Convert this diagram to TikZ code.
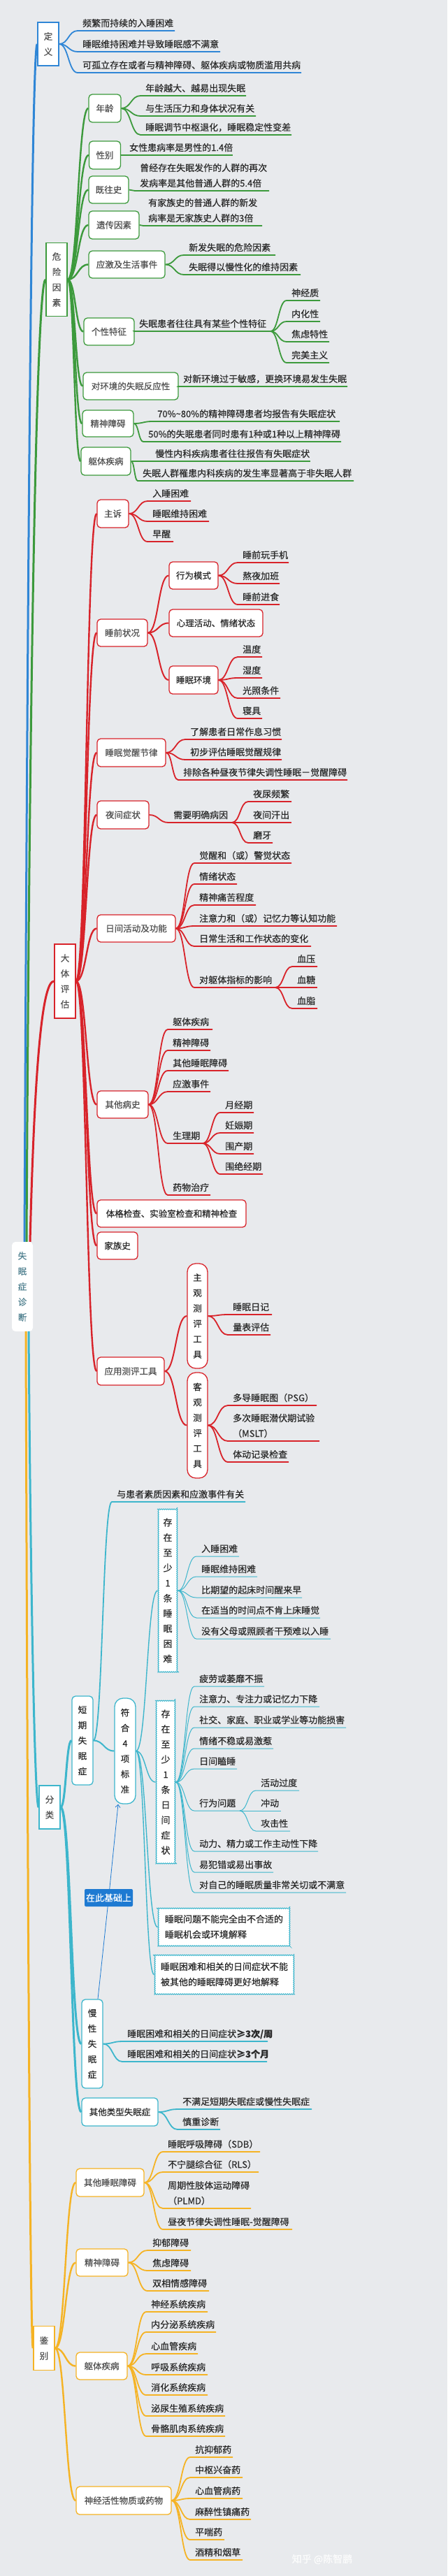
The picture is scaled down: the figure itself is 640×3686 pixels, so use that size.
\documentclass[tikz,border=0pt]{standalone}
\usepackage{fontspec}
\setmainfont{Noto Sans CJK SC}[FakeBold=0.5]
\usetikzlibrary{calc,decorations.pathmorphing,arrows.meta}
\definecolor{bgc}{HTML}{E8EAED}
\definecolor{blu}{HTML}{2F86D6}
\definecolor{grn}{HTML}{3C9A3C}
\definecolor{rdd}{HTML}{D8232A}
\definecolor{tea}{HTML}{3DB6CC}
\definecolor{yel}{HTML}{F5B324}
\definecolor{calb}{HTML}{1E7AD2}
\definecolor{boxtxt}{HTML}{505050}
\definecolor{leaftxt}{HTML}{2A2A2A}
\definecolor{roottxt}{HTML}{4E7F8E}
\colorlet{br}{blu}
\newcommand{\hfnt}{\fontsize{13}{22}\selectfont}
\newcommand{\bfnt}{\fontsize{12.5}{22}\selectfont}
\newcommand{\vfnt}{\fontsize{12.5}{22}\selectfont}
\newcommand{\cfnt}{\fontsize{13}{21.7}\selectfont}
\newcommand{\cv}[2]{let \p1=(#1), \p2=(#2) in (\p1) .. controls ({0.5*\x1+0.5*\x2},\y1) and ({0.5*\x1+0.5*\x2},\y2) .. (\p2)}
\newcommand{\lf}[6]{%
 \coordinate (#2-a) at ({#3-7},#4);
 \coordinate (#2-b) at (#5,#4);
 \node[leaftext,anchor=base west] (#2) at (#3,{#4-6}) {#6};
 \draw[leafline] \cv{#1}{#2-a} -- (#2-b);
}
\newcommand{\lftwo}[7]{%
 \coordinate (#2-a) at ({#3-7},#4);
 \coordinate (#2-b) at (#5,#4);
 \node[leaftext,anchor=base west] (#2) at (#3,{#4-6}) {\begin{tabular}[b]{@{}l@{}}#6\\#7\end{tabular}};
 \draw[leafline] \cv{#1}{#2-a} -- (#2-b);
}
\tikzset{
 box1/.style={fill=white, line width=1.5pt, minimum width=30pt, align=center, text=boxtxt, inner sep=1pt, font=\vfnt},
 box2/.style={draw=br, fill=white, line width=1.3pt, rounded corners=5pt, text=boxtxt, inner sep=1pt, font=\bfnt},
 pill/.style={draw=br, fill=white, line width=1.3pt, rounded corners=12pt, align=center, text=leaftxt, inner sep=1pt, font=\vfnt},
 cloudbox/.style={draw=br, fill=white, line width=1pt, decorate, decoration={bumps, segment length=6pt, amplitude=1.2pt}, text=leaftxt, inner sep=1pt},
 leaftext/.style={text=leaftxt, inner sep=0pt, font=\hfnt},
 leafline/.style={draw=br, line width=1.8pt},
 twig/.style={draw=br, line width=2.4pt},
 trunk/.style={line width=3pt},
}
\begin{document}
\begin{tikzpicture}[x=1pt,y=-1pt]
\fill[bgc] (0,0) rectangle (640,3686);
\useasboundingbox (0,0) rectangle (640,3686);

% root and level 1
\node[fill=white, rounded corners=5pt, minimum width=30, minimum height=128, align=center, text=roottxt, inner sep=1pt, font=\vfnt] (root) at (32,1841) {失\\眠\\症\\诊\\断};
\node[box1, draw=blu, minimum height=62] (d) at (69,63) {定\\义};
\node[box1, draw=grn, minimum height=105] (dz) at (81,400) {危\\险\\因\\素};
\node[box1, draw=rdd, minimum height=106] (dt) at (93,1404) {大\\体\\评\\估};
\node[box1, draw=tea, minimum height=62] (fl) at (71,2586) {分\\类};
\node[box1, draw=yel, minimum height=63] (jb) at (63,3360) {鉴\\别};

\draw[trunk, blu] ($(root.north)+(3,0)$) .. controls (40,700) and (46,63) .. (d.west);
\draw[trunk, grn] ($(root.north)+(6,0)$) .. controls (42,1000) and (52,400) .. (dz.west);
\draw[trunk, rdd] ($(root.north)+(11,0)$) .. controls (50,1500) and (62,1404) .. (dt.west);
\draw[trunk, tea] ($(root.south)+(9,0)$) .. controls (44,2300) and (50,2586) .. (fl.west);
\draw[trunk, yel] ($(root.south)+(5,0)$) .. controls (40,2900) and (44,3360) .. (jb.west);

% definition
\begin{scope}
\colorlet{br}{blu}
\lf{d.east}{d1}{118}{44}{250}{频繁而持续的入睡困难}
\lf{d.east}{d2}{118}{74}{315}{睡眠维持困难并导致睡眠感不满意}
\lf{d.east}{d3}{118}{104}{431}{可孤立存在或者与精神障碍、躯体疾病或物质滥用共病}
\end{scope}

% risk factors
\begin{scope}
\colorlet{br}{grn}
\node[box2, minimum width=46, minimum height=40] (g1) at (150,155) {年龄};
\node[box2, minimum width=45, minimum height=40] (g2) at (150,222) {性别};
\node[box2, minimum width=57, minimum height=39] (g3) at (155.5,271.5) {既往史};
\node[box2, minimum width=72, minimum height=40] (g4) at (163,322) {遗传因素};
\node[box2, minimum width=109, minimum height=39] (g5) at (181.5,378.5) {应激及生活事件};
\node[box2, minimum width=72, minimum height=39] (g6) at (156,474.5) {个性特征};
\node[box2, minimum width=136, minimum height=39] (g7) at (187,552.5) {对环境的失眠反应性};
\node[box2, minimum width=73, minimum height=38] (g8) at (154.5,606) {精神障碍};
\node[box2, minimum width=71, minimum height=40] (g9) at (151.5,660) {躯体疾病};
\foreach \q in {g1,g2,g3,g4,g5,g6,g7,g8,g9}{\draw[twig] \cv{dz.east}{\q.west};}
\lf{g1.east}{g1a}{208}{137}{352}{年龄越大、越易出现失眠}
\lf{g1.east}{g1b}{208}{166}{366}{与生活压力和身体状况有关}
\lf{g1.east}{g1c}{208}{193}{417}{睡眠调节中枢退化，睡眠稳定性变差}
\lf{g2.east}{g2a}{185}{222}{333}{女性患病率是男性的1.4倍}
\lftwo{g3.east}{g3a}{200}{273}{385}{曾经存在失眠发作的人群的再次}{发病率是其他普通人群的5.4倍}
\lftwo{g4.east}{g4a}{212}{323}{375}{有家族史的普通人群的新发}{病率是无家族史人群的3倍}
\lf{g5.east}{g5a}{270}{365}{394}{新发失眠的危险因素}
\lf{g5.east}{g5b}{270}{393}{430}{失眠得以慢性化的维持因素}
\lf{g6.east}{g6a}{199}{474}{387}{失眠患者往往具有某些个性特征}
\lf{g6a-b}{g6b}{417}{430}{458}{神经质}
\lf{g6a-b}{g6c}{417}{460}{458}{内化性}
\lf{g6a-b}{g6d}{417}{489}{471}{焦虑特性}
\lf{g6a-b}{g6e}{417}{519}{471}{完美主义}
\lf{g7.east}{g7a}{262}{553}{497}{对新环境过于敏感，更换环境易发生失眠}
\lf{g8.east}{g8a}{225}{603}{486}{70\%\textasciitilde80\%的精神障碍患者均报告有失眠症状}
\lf{g8.east}{g8b}{212}{632}{488}{50\%的失眠患者同时患有1种或1种以上精神障碍}
\lf{g9.east}{g9a}{222}{660}{444}{慢性内科疾病患者往往报告有失眠症状}
\lf{g9.east}{g9b}{204}{688}{506}{失眠人群罹患内科疾病的发生率显著高于非失眠人群}
\end{scope}

% general assessment
\begin{scope}
\colorlet{br}{rdd}
\node[box2, minimum width=45, minimum height=40] (r1) at (161.5,735) {主诉};
\node[box2, minimum width=72, minimum height=39] (r2) at (175,905.5) {睡前状况};
\node[box2, minimum width=70, minimum height=39, text=leaftxt] (r2a) at (277,823.5) {行为模式};
\node[box2, minimum width=134, minimum height=39, text=leaftxt] (r2b) at (309,891.5) {心理活动、情绪状态};
\node[box2, minimum width=70, minimum height=40, text=leaftxt] (r2c) at (277,973) {睡眠环境};
\node[box2, minimum width=98, minimum height=40] (r3) at (188,1077) {睡眠觉醒节律};
\node[box2, minimum width=74, minimum height=40] (r4) at (176,1166) {夜间症状};
\node[box2, minimum width=112, minimum height=39] (r5) at (195,1328.5) {日间活动及功能};
\node[box2, minimum width=73, minimum height=39] (r6) at (175.5,1580.5) {其他病史};
\node[box2, minimum width=213, minimum height=39, text=leaftxt] (r7) at (245.5,1736.5) {体格检查、实验室检查和精神检查};
\node[box2, minimum width=58, minimum height=39, text=leaftxt] (r8) at (168,1782.5) {家族史};
\node[box2, minimum width=96, minimum height=40] (r9) at (187,1962) {应用测评工具};
\node[pill, minimum width=29, minimum height=150] (r9a) at (282.5,1883) {主\\观\\测\\评\\工\\具};
\node[pill, minimum width=29, minimum height=151] (r9b) at (282.5,2039.5) {客\\观\\测\\评\\工\\具};
\foreach \q in {r1,r2,r3,r4,r5,r6,r7,r8,r9}{\draw[twig] \cv{dt.east}{\q.west};}
\foreach \q in {r2a,r2b,r2c}{\draw[twig, line width=2pt] \cv{r2.east}{\q.west};}
\foreach \q in {r9a,r9b}{\draw[twig, line width=2pt] \cv{r9.east}{\q.west};}
\lf{r1.east}{r1a}{218}{717}{273}{入睡困难}
\lf{r1.east}{r1b}{218}{746}{299}{睡眠维持困难}
\lf{r1.east}{r1c}{218}{775}{248}{早醒}
\lf{r2a.east}{r2a1}{347}{805}{413}{睡前玩手机}
\lf{r2a.east}{r2a2}{347}{835}{400}{熬夜加班}
\lf{r2a.east}{r2a3}{347}{865}{400}{睡前进食}
\lf{r2c.east}{r2c1}{347}{940}{375}{温度}
\lf{r2c.east}{r2c2}{347}{970}{375}{湿度}
\lf{r2c.east}{r2c3}{347}{999}{401}{光照条件}
\lf{r2c.east}{r2c4}{347}{1028}{375}{寝具}
\lf{r3.east}{r3a}{272}{1058}{403}{了解患者日常作息习惯}
\lf{r3.east}{r3b}{272}{1087}{403}{初步评估睡眠觉醒规律}
\lf{r3.east}{r3c}{262}{1116}{497}{排除各种昼夜节律失调性睡眠－觉醒障碍}
\lf{r4.east}{r4a}{248}{1177}{332}{需要明确病因}
\lf{r4a-b}{r4b}{362}{1147}{417}{夜尿频繁}
\lf{r4a-b}{r4c}{362}{1177}{417}{夜间汗出}
\lf{r4a-b}{r4d}{362}{1206}{390}{磨牙}
\lf{r5.east}{r5a}{285}{1235}{417}{觉醒和（或）警觉状态}
\lf{r5.east}{r5b}{285}{1265}{339}{情绪状态}
\lf{r5.east}{r5c}{285}{1295}{366}{精神痛苦程度}
\lf{r5.east}{r5d}{285}{1325}{482}{注意力和（或）记忆力等认知功能}
\lf{r5.east}{r5e}{285}{1354}{445}{日常生活和工作状态的变化}
\lf{r5.east}{r5f}{285}{1413}{394}{对躯体指标的影响}
\lf{r5f-b}{r5g}{425}{1383}{454}{血压}
\lf{r5f-b}{r5h}{425}{1413}{454}{血糖}
\lf{r5f-b}{r5i}{425}{1443}{454}{血脂}
\lf{r6.east}{r6a}{247}{1473}{304}{躯体疾病}
\lf{r6.east}{r6b}{247}{1503}{301}{精神障碍}
\lf{r6.east}{r6c}{247}{1532}{327}{其他睡眠障碍}
\lf{r6.east}{r6d}{247}{1562}{301}{应激事件}
\lf{r6.east}{r6e}{247}{1636}{290}{生理期}
\lf{r6.east}{r6f}{247}{1710}{301}{药物治疗}
\lf{r6e-b}{r6g}{322}{1592}{363}{月经期}
\lf{r6e-b}{r6h}{322}{1621}{363}{妊娠期}
\lf{r6e-b}{r6i}{322}{1651}{363}{围产期}
\lf{r6e-b}{r6j}{322}{1680}{376}{围绝经期}
\lf{r9a.east}{r9a1}{333}{1881}{389}{睡眠日记}
\lf{r9a.east}{r9a2}{333}{1910}{387}{量表评估}
\lf{r9b.east}{r9b1}{333}{2011}{453}{多导睡眠图（PSG）}
\lftwo{r9b.east}{r9b2}{333}{2062}{457}{多次睡眠潜伏期试验}{（MSLT）}
\lf{r9b.east}{r9b3}{333}{2092}{413}{体动记录检查}
\end{scope}

% classification
\begin{scope}
\colorlet{br}{tea}
\node[box2, minimum width=30, minimum height=127, align=center, text=leaftxt, font=\vfnt] (t1) at (118,2490.5) {短\\期\\失\\眠\\症};
\node[pill, minimum width=30, minimum height=151] (t1b) at (179,2505.5) {符\\合\\4\\项\\标\\准};
\node[cloudbox, minimum width=28, minimum height=234, align=center, font=\cfnt] (c1) at (240,2276) {存\\在\\至\\少\\1\\条\\睡\\眠\\困\\难};
\node[cloudbox, minimum width=28, minimum height=234, align=center, font=\cfnt] (c2) at (237,2550) {存\\在\\至\\少\\1\\条\\日\\间\\症\\状};
\node[cloudbox, minimum width=189, minimum height=55, font=\hfnt] (c3) at (320.5,2757.5) {\begin{tabular}{@{}l@{}}睡眠问题不能完全由不合适的\\睡眠机会或环境解释\end{tabular}};
\node[cloudbox, minimum width=200, minimum height=57, font=\hfnt] (c4) at (321,2825.5) {\begin{tabular}{@{}l@{}}睡眠困难和相关的日间症状不能\\被其他的睡眠障碍更好地解释\end{tabular}};
\node[box2, minimum width=30, minimum height=127, align=center, text=leaftxt, font=\vfnt] (t2) at (132,2924.5) {慢\\性\\失\\眠\\症};
\node[box2, minimum width=109, minimum height=40, text=leaftxt] (t3) at (171.5,3022) {其他类型失眠症};
\node[fill=calb, text=white, minimum width=69, minimum height=25, inner sep=1pt, rounded corners=2pt, font=\hfnt] (cb) at (155.5,2715.5) {在此基础上};
\foreach \q in {t1,t2,t3}{\draw[twig, line width=3pt] \cv{fl.east}{\q.west};}
\draw[twig, line width=2pt] \cv{t1.east}{t1b.west};
\foreach \q in {c1,c2,c3,c4}{\draw[twig, line width=1.4pt] \cv{t1b.east}{\q.west};}
\draw[calb, line width=0.8pt] ($(t2.north)+(8,0)$) -- (cb);
\draw[calb, line width=0.8pt, -{Straight Barb[length=4pt,width=7pt]}] (cb) -- ($(t1b.south)+(-10,0)$);
\lf{t1.east}{t1a}{167}{2149}{351}{与患者素质因素和应激事件有关}
\begin{scope}[leafline/.style={draw=br, line width=1pt}]
\lf{c1.east}{c1a}{288}{2227}{342}{入睡困难}
\lf{c1.east}{c1b}{288}{2256}{368}{睡眠维持困难}
\lf{c1.east}{c1c}{288}{2286}{432}{比期望的起床时间醒来早}
\lf{c1.east}{c1d}{288}{2315}{458}{在适当的时间点不肯上床睡觉}
\lf{c1.east}{c1e}{288}{2345}{473}{没有父母或照顾者干预难以入睡}
\lf{c2.east}{c2a}{285}{2413}{378}{疲劳或萎靡不振}
\lf{c2.east}{c2b}{285}{2442}{457}{注意力、专注力或记忆力下降}
\lf{c2.east}{c2c}{285}{2472}{495}{社交、家庭、职业或学业等功能损害}
\lf{c2.east}{c2d}{285}{2502}{391}{情绪不稳或易激惹}
\lf{c2.east}{c2e}{285}{2531}{339}{日间瞌睡}
\lf{c2.east}{c2f}{285}{2591}{343}{行为问题}
\lf{c2.east}{c2g}{285}{2649}{455}{动力、精力或工作主动性下降}
\lf{c2.east}{c2h}{285}{2679}{391}{易犯错或易出事故}
\lf{c2.east}{c2i}{285}{2708}{495}{对自己的睡眠质量非常关切或不满意}
\lf{c2f-b}{c2j}{373}{2562}{428}{活动过度}
\lf{c2f-b}{c2k}{373}{2591}{402}{冲动}
\lf{c2f-b}{c2l}{373}{2620}{415}{攻击性}
\end{scope}
\lf{t2.east}{t2a}{182}{2921}{383}{睡眠困难和相关的日间症状\textbf{≥3次/周}}
\lf{t2.east}{t2b}{182}{2950}{382}{睡眠困难和相关的日间症状\textbf{≥3个月}}
\lf{t3.east}{t3a}{261}{3018}{446}{不满足短期失眠症或慢性失眠症}
\lf{t3.east}{t3b}{261}{3047}{315}{慎重诊断}
\end{scope}

% differential diagnosis
\begin{scope}
\colorlet{br}{yel}
\node[box2, minimum width=97, minimum height=40] (y1) at (157.5,3123) {其他睡眠障碍};
\node[box2, minimum width=74, minimum height=39] (y2) at (146,3237.5) {精神障碍};
\node[box2, minimum width=73, minimum height=39] (y3) at (145.5,3385.5) {躯体疾病};
\node[box2, minimum width=136, minimum height=40] (y4) at (177,3578) {神经活性物质或药物};
\foreach \q in {y1,y2,y3,y4}{\draw[twig] \cv{jb.east}{\q.west};}
\lf{y1.east}{y1a}{240}{3079}{372}{睡眠呼吸障碍（SDB）}
\lf{y1.east}{y1b}{240}{3108}{370}{不宁腿综合征（RLS）}
\lftwo{y1.east}{y1c}{240}{3160}{359}{周期性肢体运动障碍}{（PLMD）}
\lf{y1.east}{y1d}{240}{3190}{418}{昼夜节律失调性睡眠-觉醒障碍}
\lf{y2.east}{y2a}{218}{3220}{273}{抑郁障碍}
\lf{y2.east}{y2b}{218}{3249}{273}{焦虑障碍}
\lf{y2.east}{y2c}{218}{3278}{299}{双相情感障碍}
\lf{y3.east}{y3a}{216}{3308}{297}{神经系统疾病}
\lf{y3.east}{y3b}{216}{3337}{309}{内分泌系统疾病}
\lf{y3.east}{y3c}{216}{3368}{283}{心血管疾病}
\lf{y3.east}{y3d}{216}{3398}{297}{呼吸系统疾病}
\lf{y3.east}{y3e}{216}{3427}{297}{消化系统疾病}
\lf{y3.east}{y3f}{216}{3457}{322}{泌尿生殖系统疾病}
\lf{y3.east}{y3g}{216}{3486}{322}{骨骼肌肉系统疾病}
\lf{y4.east}{y4a}{279}{3516}{333}{抗抑郁药}
\lf{y4.east}{y4b}{279}{3545}{347}{中枢兴奋药}
\lf{y4.east}{y4c}{279}{3575}{347}{心血管病药}
\lf{y4.east}{y4d}{279}{3605}{359}{麻醉性镇痛药}
\lf{y4.east}{y4e}{279}{3634}{321}{平喘药}
\lf{y4.east}{y4f}{279}{3663}{347}{酒精和烟草}
\end{scope}

\node[text=white, opacity=0.85, font=\fontsize{14}{16}\selectfont, inner sep=0pt] (wm) at (461,3662) {知乎 @陈智鹏};
\end{tikzpicture}
\end{document}
